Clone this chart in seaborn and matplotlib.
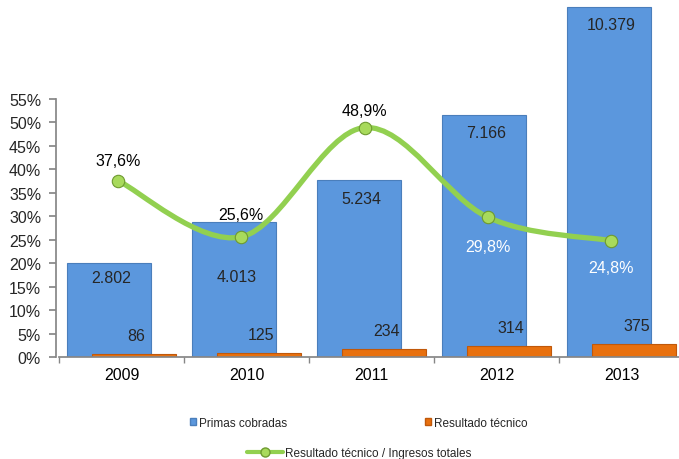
import numpy as np
import matplotlib.pyplot as plt
from matplotlib.path import Path
from matplotlib.patches import PathPatch, Patch
from matplotlib.lines import Line2D
import seaborn as sns

# data
years = ['2009', '2010', '2011', '2012', '2013']
primas = [2802, 4013, 5234, 7166, 10379]
resultado = [86, 125, 234, 314, 375]
ratio = [37.6, 25.6, 48.9, 29.8, 24.8]

# label styling (pixel offsets from the mark)
primas_off = [-15, -55, -18, -17, -18]
ratio_off = [20, 22, 17, -29, -27]
ratio_col = ['black', 'black', 'black', 'white', 'white']

blue, blue_edge = '#5B97DD', '#4A7EBB'
orange, orange_edge = '#E8700E', '#C0580A'
green, green_dark = '#92D050', '#6E9A30'
grey = '#868686'

sns.set_theme(style='white')
plt.rcParams['font.family'] = ['Liberation Sans', 'DejaVu Sans']

PX = 0.72  # points per pixel at dpi 100
W, H = 679, 460

fig = plt.figure(figsize=(W / 100, H / 100), dpi=100)
axb = fig.add_axes([59.3 / W, 102 / H, 625 / W, 358 / H])
axl = fig.add_axes([56.4 / W, 102 / H, 616.2 / W, 358 / H])
axl.patch.set_alpha(0)

# bars
sns.barplot(x=years, y=primas, color=blue, saturation=1, width=0.67,
            edgecolor=blue_edge, linewidth=0.8, ax=axb)
n0 = len(axb.patches)
for p in axb.patches:
    p.set_x(p.get_x() - 0.1)
sns.barplot(x=years, y=resultado, color=orange, saturation=1, width=0.67,
            edgecolor=orange_edge, linewidth=0.8, ax=axb)
for p in axb.patches[n0:]:
    p.set_x(p.get_x() + 0.1)

axb.set_ylim(0, 10379 * 358 / 350)
axb.set_xlim(-0.5, 4.5)
axb.set_xlabel('')
axb.set_ylabel('')
axb.set_yticks([])
for s in ['left', 'right', 'top']:
    axb.spines[s].set_visible(False)
axb.spines['bottom'].set_color(grey)
axb.tick_params(axis='x', which='major', length=0, labelsize=11.5, pad=7, colors='black')
axb.set_xticks(np.arange(-0.5, 5, 1), minor=True)
axb.tick_params(axis='x', which='minor', length=4, color=grey, bottom=True, direction='out')

for i, (v, off) in enumerate(zip(primas, primas_off)):
    axb.annotate(f'{v:,}'.replace(',', '.'), (i - 0.1, v), xytext=(2 * PX, off * PX),
                 textcoords='offset points', ha='center', va='center', fontsize=11.5)
for i, v in enumerate(resultado):
    axb.annotate(str(v), (i + 0.1, v), xytext=(2 * PX, 18.5 * PX),
                 textcoords='offset points', ha='center', va='center', fontsize=11.5)


# smooth line (Catmull-Rom style bezier through the points)
def smooth_path(x, y):
    pts = np.column_stack([x, y]).astype(float)
    verts = [pts[0]]
    codes = [Path.MOVETO]
    n = len(pts)
    for i in range(n - 1):
        p0 = pts[i - 1] if i > 0 else pts[i]
        p1, p2 = pts[i], pts[i + 1]
        p3 = pts[i + 2] if i + 2 < n else pts[i + 1]
        verts += [p1 + (p2 - p0) / 6, p2 - (p3 - p1) / 6, p2]
        codes += [Path.CURVE4] * 3
    return Path(verts, codes)


xs = np.arange(len(ratio))
axl.add_patch(PathPatch(smooth_path(xs, ratio), fc='none', ec=green, lw=3.8,
                        capstyle='round', zorder=3))
sns.scatterplot(x=xs, y=ratio, s=80, color='#A8DA5C', edgecolor=green_dark,
                linewidth=0.8, zorder=4, ax=axl, legend=False)

for i, (v, off, c) in enumerate(zip(ratio, ratio_off, ratio_col)):
    axl.annotate(f'{v:.1f}%'.replace('.', ','), (i, v), xytext=(0, off * PX),
                 textcoords='offset points', ha='center', va='center',
                 fontsize=11.5, color=c)

axl.set_xlim(-0.5, 4.5)
axl.set_ylim(0, 55 * 358 / 258)
axl.set_xticks([])
yt = np.arange(0, 56, 5)
axl.set_yticks(yt)
axl.set_yticklabels([f'{t}%' for t in yt])
axl.tick_params(axis='y', length=5, color=grey, direction='out', labelsize=11.5, pad=6, left=True)
for s in ['right', 'top', 'bottom']:
    axl.spines[s].set_visible(False)
axl.spines['left'].set_color(grey)
axl.spines['left'].set_bounds(0, 55)

# legends
common = dict(loc='center left', frameon=False, fontsize=8.5, borderpad=0, borderaxespad=0)
fig.legend(handles=[Patch(fc=blue, ec=blue_edge)], labels=['Primas cobradas'],
           bbox_to_anchor=(190 / W, 1 - 424 / H), handlelength=0.55, handleheight=0.55,
           handletextpad=0.25, **common)
fig.legend(handles=[Patch(fc=orange, ec=orange_edge)], labels=['Resultado técnico'],
           bbox_to_anchor=(425 / W, 1 - 424 / H), handlelength=0.55, handleheight=0.55,
           handletextpad=0.25, **common)
fig.legend(handles=[Line2D([], [], color=green, lw=3, marker='o', markersize=6.5,
                           mfc='#A8DA5C', mec=green_dark)],
           labels=['Resultado técnico / Ingresos totales'],
           bbox_to_anchor=(247 / W, 1 - 454 / H), handlelength=3.05,
           handletextpad=0.2, **common)

fig.savefig('out.png', dpi=100)
